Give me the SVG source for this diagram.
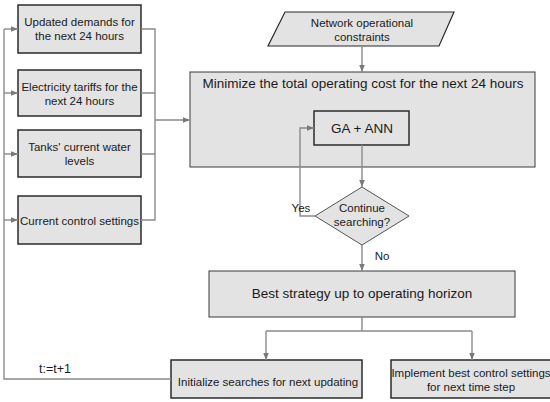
<svg xmlns="http://www.w3.org/2000/svg" width="550" height="402" viewBox="0 0 550 402">
<defs>
<marker id="ah" viewBox="0 0 10 10" refX="10" refY="5" markerWidth="7" markerHeight="7" markerUnits="userSpaceOnUse" orient="auto">
<path d="M0,1 L10,5 L0,9 z" fill="#7a7a7a"/>
</marker>
<style>
.box{fill:#e3e3e3;stroke:#2b2b2b;stroke-width:1.5}
.big{fill:#e3e3e3;stroke:#3a3a3a;stroke-width:1}
.t{font-family:"Liberation Sans",Arial,sans-serif;font-size:11.5px;fill:#1a1a1a;text-anchor:middle}
.l{font-size:13.5px}
.c{fill:none;stroke:#8a8a8a;stroke-width:1.4}
.a{marker-end:url(#ah)}
</style>
</defs>
<rect width="550" height="402" fill="#ffffff"/>
<g id="n-demands"><rect class="box" x="18" y="5" width="123" height="48"/><text class="t" x="79.5" y="26">Updated demands for</text><text class="t" x="79.5" y="40">the next 24 hours</text></g>
<g id="n-tariffs"><rect class="box" x="18" y="70" width="123" height="46"/><text class="t" x="79.5" y="91">Electricity tariffs for the</text><text class="t" x="79.5" y="105">next 24 hours</text></g>
<g id="n-tanks"><rect class="box" x="18" y="130" width="123" height="47"/><text class="t" x="79.5" y="151">Tanks' current water</text><text class="t" x="79.5" y="165">levels</text></g>
<g id="n-control"><rect class="box" x="18" y="196" width="123" height="48"/><text class="t" x="79.5" y="225">Current control settings</text></g>
<g id="n-constraints"><polygon class="box" points="285,12 454,12 439,46 268,46" style="stroke-width:1.2"/><text class="t" x="362" y="27">Network operational</text><text class="t" x="362" y="41">constraints</text></g>
<g id="n-minimize"><rect class="big" x="190" y="72" width="345" height="95"/><text class="t l" x="363" y="88">Minimize the total operating cost for the next 24 hours</text></g>
<g id="n-ga"><rect class="box" x="314" y="111" width="95" height="34"/><text class="t l" x="362" y="133">GA + ANN</text></g>
<g id="n-continue"><polygon class="big" points="362,187 409,216 362,245 315,216" style="stroke:#555"/><text class="t" x="362" y="212">Continue</text><text class="t" x="362" y="226">searching?</text></g>
<g id="n-best"><rect class="big" x="209" y="271" width="306" height="46"/><text class="t l" x="362" y="298">Best strategy up to operating horizon</text></g>
<g id="n-init"><rect class="box" x="171" y="360" width="191" height="38"/><text class="t" x="268" y="386">Initialize searches for next updating</text></g>
<g id="n-implement"><rect class="box" x="391" y="360" width="170" height="38"/><text class="t" x="471" y="377">Implement best control settings</text><text class="t" x="471" y="391">for next time step</text></g>
<g id="connectors">
<path class="c" d="M171,379 H4 V29"/>
<path class="c a" d="M4,29 H18"/>
<path class="c a" d="M4,93 H18"/>
<path class="c a" d="M4,154 H18"/>
<path class="c a" d="M4,220 H18"/>
<path class="c" d="M141,29 H155 V220 H141 M141,93 H155 M141,154 H155"/>
<path class="c a" d="M155,120 H190"/>
<path class="c a" d="M362,46 V72"/>
<path class="c a" d="M362,145 V187"/>
<path class="c a" d="M315,216 H300 V128 H314"/>
<path class="c a" d="M362,245 V271"/>
<path class="c" d="M362,317 V331 M266,331 H472"/>
<path class="c a" d="M266,331 V360"/>
<path class="c a" d="M472,331 V360"/>
<text class="t" x="301" y="212">Yes</text>
<text class="t" x="382" y="260">No</text>
<text class="t" x="55" y="373" style="font-size:12.5px">t:=t+1</text>
</g>
</svg>
